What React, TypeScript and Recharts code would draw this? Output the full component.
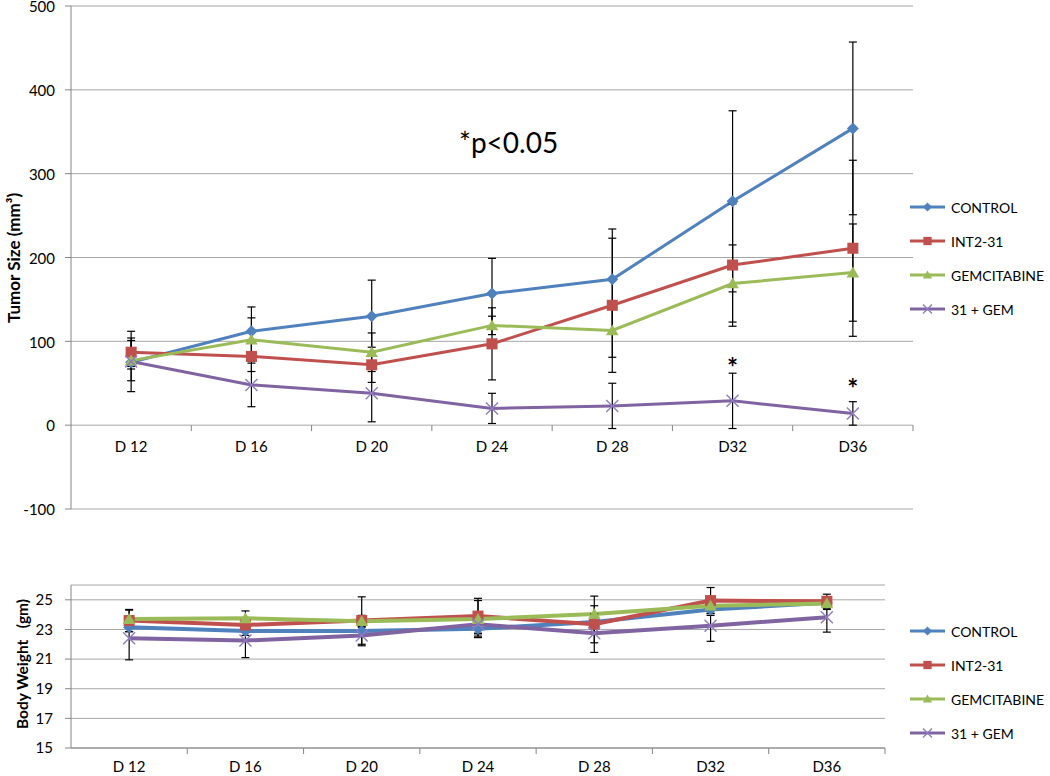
import React from "react";
import { LineChart, Line, XAxis, YAxis, CartesianGrid, ErrorBar, Legend, ReferenceDot } from "recharts";

const FONT = "Lato, 'Open Sans', sans-serif";
const GRID = "#a6a6a6";
const AXIS = "#868686";

const days = ["D 12", "D 16", "D 20", "D 24", "D 28", "D32", "D36"];
const seriesNames = ["CONTROL", "INT2-31", "GEMCITABINE", "31 + GEM"];
const seriesKeys = ["control", "int", "gem", "combo"];
const seriesColors = ["#4F81BD", "#C0504D", "#9BBB59", "#8064A2"];
const seriesMarkers = ["diamond", "square", "triangle", "x"];

// tumor size (mm3): mean and SD per day
const tumorControl = [75, 112, 130, 157, 174, 267, 354];
const tumorControlSd = [8, 29, 43, 42, 60, 108, 103];
const tumorInt = [87, 82, 72, 97, 143, 191, 211];
const tumorIntSd = [17, 18, 21, 43, 80, 73, 105];
const tumorGem = [77, 102, 87, 119, 113, 169, 182];
const tumorGemSd = [24, 26, 23, 11, 32, 46, 58];
const tumorCombo = [76, 48, 38, 20, 23, 29, 14];
const tumorComboSd = [36, 26, 34, 18, 27, 33, 14];
const tumorTicks = [-100, 0, 100, 200, 300, 400, 500];

// significance asterisks above 31 + GEM
const sigDays = ["D32", "D36"];
const sigAt = [74, 49];

// body weight (gm): mean and SD per day
const bwControl = [23.15, 22.9, 22.9, 23.05, 23.5, 24.35, 24.8];
const bwControlSd = [0.3, 0.3, 0.3, 0.5, 0.3, 0.4, 0.3];
const bwInt = [23.6, 23.3, 23.6, 23.9, 23.35, 24.95, 24.9];
const bwIntSd = [0.75, 0.5, 1.6, 1.2, 1.25, 0.88, 0.48];
const bwGem = [23.7, 23.75, 23.55, 23.7, 24.05, 24.6, 24.75];
const bwGemSd = [0.6, 0.5, 0.4, 1.25, 1.2, 0.5, 0.4];
const bwCombo = [22.4, 22.25, 22.6, 23.35, 22.75, 23.25, 23.82];
const bwComboSd = [1.45, 1.15, 0.7, 0.6, 1.3, 1.05, 1.0];
const bwTicks = [15, 17, 19, 21, 23, 25];

function buildRows(values: number[][], sds: number[][]) {
  return days.map((day, i) => {
    const r: any = { day };
    seriesKeys.forEach((k, s) => {
      r[k] = values[s][i];
      r[k + "Sd"] = sds[s][i];
    });
    return r;
  });
}

const tumorRows = buildRows(
  [tumorControl, tumorInt, tumorGem, tumorCombo],
  [tumorControlSd, tumorIntSd, tumorGemSd, tumorComboSd]
);
const bwRows = buildRows([bwControl, bwInt, bwGem, bwCombo], [bwControlSd, bwIntSd, bwGemSd, bwComboSd]);

function Marker({ kind, cx, cy, size, color }: any) {
  if (cx == null || cy == null) return null;
  const r = size / 2;
  if (kind === "diamond")
    return <polygon points={`${cx},${cy - r} ${cx + r},${cy} ${cx},${cy + r} ${cx - r},${cy}`} fill={color} />;
  if (kind === "square") return <rect x={cx - r * 0.92} y={cy - r * 0.92} width={size * 0.92} height={size * 0.92} fill={color} />;
  if (kind === "triangle")
    return <polygon points={`${cx},${cy - r} ${cx + r * 1.05},${cy + r * 0.8} ${cx - r * 1.05},${cy + r * 0.8}`} fill={color} />;
  return (
    <g stroke="#8f7cc0" strokeWidth={1.4}>
      <line x1={cx - r} y1={cy - r} x2={cx + r} y2={cy + r} />
      <line x1={cx - r} y1={cy + r} x2={cx + r} y2={cy - r} />
    </g>
  );
}

function DayTick(props: any) {
  const { x, y, index, half, shift, gap } = props;
  const y0 = y - shift;
  return (
    <g>
      {index > 0 && <line x1={x - half} x2={x - half} y1={y0} y2={y0 + 6} stroke={AXIS} />}
      {index === days.length - 1 && <line x1={x + half} x2={x + half} y1={y0} y2={y0 + 6} stroke={AXIS} />}
      <text x={x} y={y0 + gap} dy="0.35em" textAnchor="middle" fontSize={15} fontFamily={FONT} fill="#000">
        {props.payload.value}
      </text>
    </g>
  );
}

function LegendBox({ width, lineWidth, markerSize }: any) {
  return (
    <div style={{ width, fontFamily: FONT, fontSize: 14, color: "#000" }}>
      {seriesNames.map((name, i) => (
        <div key={name} style={{ height: 34, display: "flex", alignItems: "center" }}>
          <svg width={42} height={16} style={{ flex: "none" }}>
            <line x1={5} x2={40} y1={8} y2={8} stroke={seriesColors[i]} strokeWidth={lineWidth} />
            <Marker kind={seriesMarkers[i]} cx={22.5} cy={8} size={markerSize} color={seriesColors[i]} />
          </svg>
          <span style={{ marginLeft: 4, whiteSpace: "nowrap" }}>{name}</span>
        </div>
      ))}
    </div>
  );
}

function seriesLines(lineWidth: number, markerSize: number) {
  return seriesKeys.map((k, i) => (
    <Line
      key={k}
      dataKey={k}
      name={seriesNames[i]}
      type="linear"
      stroke={seriesColors[i]}
      strokeWidth={lineWidth}
      isAnimationActive={false}
      activeDot={false}
      dot={(p: any) => (
        <Marker key={`${k}-${p.index}`} kind={seriesMarkers[i]} cx={p.cx} cy={p.cy} size={markerSize} color={seriesColors[i]} />
      )}
    >
      <ErrorBar dataKey={k + "Sd"} direction="y" width={4} stroke="#000" strokeWidth={1.2} />
    </Line>
  ));
}

export default function App() {
  // top plot: x 71..913, y 6..509
  const topPlotH = 503;
  const topShift = (topPlotH * (0 - tumorTicks[0])) / (tumorTicks[tumorTicks.length - 1] - tumorTicks[0]);
  const topHalf = (913 - 71) / days.length / 2;
  // bottom plot: x 71..885, y 585..748
  const bwHalf = (885 - 71) / days.length / 2;

  return (
    <div style={{ position: "absolute", left: 0, top: 0, width: 1050, height: 776, background: "#fff", fontFamily: FONT }}>
      <div style={{ position: "absolute", left: 0, top: 0 }}>
        <LineChart width={1050} height={530} data={tumorRows} margin={{ top: 6, right: 0, bottom: 0, left: 0 }}>
          <CartesianGrid vertical={false} stroke={GRID} />
          <XAxis
            dataKey="day"
            height={21}
            interval={0}
            axisLine={false}
            tickLine={false}
            tickSize={0}
            tickMargin={0}
            padding={{ left: topHalf, right: topHalf }}
            tick={(p: any) => <DayTick {...p} half={topHalf} shift={topShift} gap={22} />}
          />
          <YAxis
            width={71}
            domain={[tumorTicks[0], tumorTicks[tumorTicks.length - 1]]}
            ticks={tumorTicks}
            interval={0}
            axisLine={{ stroke: AXIS }}
            tickLine={{ stroke: AXIS }}
            tickSize={6}
            tickMargin={10}
            tick={{ fontSize: 15, fill: "#000", fontFamily: FONT, dy: 1 }}
          />
          <Legend
            layout="vertical"
            align="right"
            verticalAlign="top"
            wrapperStyle={{ left: 905, top: 190, right: "auto", width: 137 }}
            content={() => <LegendBox width={137} lineWidth={3} markerSize={9} />}
          />
          {seriesLines(3, 12)}
          {sigDays.map((d, i) => (
            <ReferenceDot
              key={d}
              x={d}
              y={sigAt[i]}
              r={0}
              shape={(p: any) => (
                <text x={p.cx} y={p.cy + 14} textAnchor="middle" fontSize={26} fontWeight={700} fontFamily={FONT} fill="#000">
                  *
                </text>
              )}
            />
          ))}
        </LineChart>
      </div>

      <div style={{ position: "absolute", left: 0, top: 570 }}>
        <LineChart width={1050} height={206} data={bwRows} margin={{ top: 15, right: 0, bottom: 0, left: 0 }}>
          <CartesianGrid vertical={false} stroke={GRID} />
          <XAxis
            dataKey="day"
            height={28}
            interval={0}
            axisLine={{ stroke: AXIS }}
            tickLine={false}
            tickSize={0}
            tickMargin={0}
            padding={{ left: bwHalf, right: bwHalf }}
            tick={(p: any) => <DayTick {...p} half={bwHalf} shift={0} gap={19} />}
          />
          <YAxis
            width={71}
            domain={[15, 26]}
            ticks={bwTicks}
            interval={0}
            axisLine={{ stroke: AXIS }}
            tickLine={{ stroke: AXIS }}
            tickSize={6}
            tickMargin={12}
            tick={{ fontSize: 15, fill: "#000", fontFamily: FONT }}
          />
          <Legend
            layout="vertical"
            align="right"
            verticalAlign="top"
            wrapperStyle={{ left: 905, top: 44, right: "auto", width: 165 }}
            content={() => <LegendBox width={165} lineWidth={3} markerSize={9} />}
          />
          {seriesLines(4, 12)}
        </LineChart>
      </div>

      <svg width={1050} height={776} style={{ position: "absolute", left: 0, top: 0, pointerEvents: "none" }}>
        <text x={459} y={153} fontSize={28} fontFamily={FONT} fill="#000">
          *p&lt;0.05
        </text>
        <text
          transform="translate(14,258) rotate(-90)"
          dy="0.35em"
          textAnchor="middle"
          fontSize={17}
          fontWeight={700}
          fontFamily={FONT}
          fill="#000"
        >
          Tumor Size (mm³)
        </text>
        <text
          transform="translate(23,664) rotate(-90)"
          dy="0.35em"
          textAnchor="middle"
          fontSize={15.5}
          fontWeight={700}
          fontFamily={FONT}
          fill="#000"
          style={{ whiteSpace: "pre" }}
        >
          {"Body Weight   (gm)"}
        </text>
      </svg>
    </div>
  );
}
